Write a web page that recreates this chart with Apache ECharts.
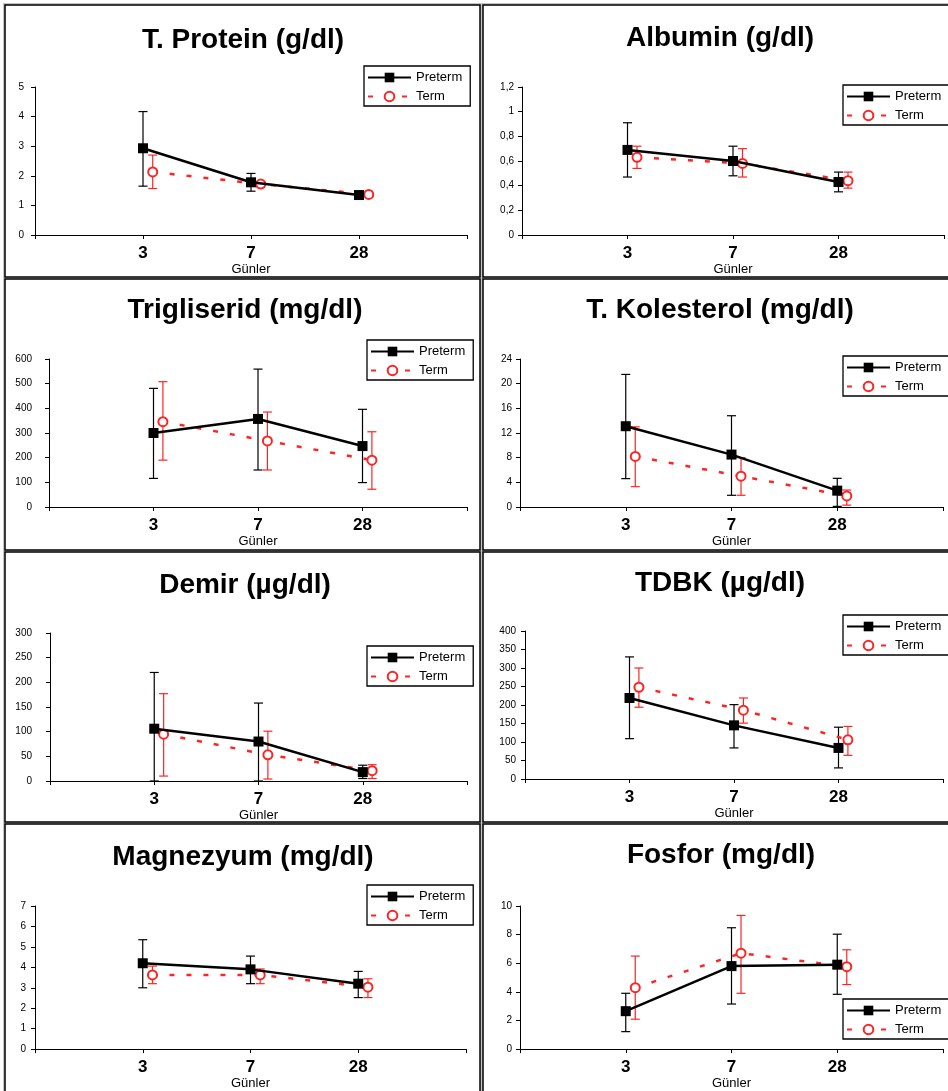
<!DOCTYPE html>
<html><head><meta charset="utf-8">
<script src="https://cdn.jsdelivr.net/npm/echarts@6/dist/echarts.min.js"></script>
<style>html,body{margin:0;padding:0;background:#fff;overflow:hidden}#c{width:948px;height:1091px}</style>
</head><body><div id="c"></div><script>
// ---------- DATA ----------
const days = ['3', '7', '28'];
const seriesNames = ['Preterm', 'Term'];

const proteinPre = [2.93, 1.78, 1.35];
const proteinPreHi = [4.17, 2.08, 1.42];
const proteinPreLo = [1.65, 1.48, 1.28];
const proteinTerm = [2.13, 1.72, 1.37];
const proteinTermHi = [2.7, 1.8, 1.42];
const proteinTermLo = [1.57, 1.62, 1.32];

const albuminPre = [0.69, 0.60, 0.43];
const albuminPreHi = [0.91, 0.72, 0.51];
const albuminPreLo = [0.47, 0.48, 0.35];
const albuminTerm = [0.63, 0.58, 0.44];
const albuminTermHi = [0.72, 0.70, 0.51];
const albuminTermLo = [0.54, 0.47, 0.38];

const trigPre = [300, 357, 247];
const trigPreHi = [481, 559, 396];
const trigPreLo = [116, 150, 99];
const trigTerm = [346, 268, 190];
const trigTermHi = [508, 385, 305];
const trigTermLo = [190, 150, 72];

const kolPre = [13.1, 8.5, 2.65];
const kolPreHi = [21.5, 14.8, 4.65];
const kolPreLo = [4.6, 1.9, 0.1];
const kolTerm = [8.2, 5.0, 1.8];
const kolTermHi = [13.0, 8.0, 2.75];
const kolTermLo = [3.3, 1.9, 0.3];

const demirPre = [106, 80, 18];
const demirPreHi = [220, 158, 32];
const demirPreLo = [0, 0, 5];
const demirTerm = [95, 53, 21];
const demirTermHi = [177, 101, 33];
const demirTermLo = [10, 4, 5];

const tdbkPre = [219, 145, 84];
const tdbkPreHi = [330, 201, 140];
const tdbkPreLo = [109, 84, 30];
const tdbkTerm = [248, 186, 106];
const tdbkTermHi = [300, 219, 142];
const tdbkTermLo = [194, 151, 64];

const mgPre = [4.2, 3.9, 3.2];
const mgPreHi = [5.35, 4.55, 3.8];
const mgPreLo = [3.0, 3.2, 2.52];
const mgTerm = [3.63, 3.63, 3.03];
const mgTermHi = [4.06, 3.92, 3.44];
const mgTermLo = [3.2, 3.2, 2.52];

const fosPre = [2.65, 5.8, 5.9];
const fosPreHi = [3.9, 8.48, 8.03];
const fosPreLo = [1.22, 3.15, 3.83];
const fosTerm = [4.29, 6.7, 5.76];
const fosTermHi = [6.5, 9.34, 6.94];
const fosTermLo = [2.09, 3.9, 4.51];

// ---------- PANELS (layout) ----------
const comma = v => String(+v.toFixed(1)).replace('.', ',');
const panels = [
  {title: 'T. Protein (g/dl)', d: [proteinPre, proteinPreHi, proteinPreLo, proteinTerm, proteinTermHi, proteinTermLo],
   y: [0, 5, 1], box: [5, 5, 475, 272], t: [243, 40], g: [35, 87, 467, 235], lg: [364, 66], lm: 11},
  {title: 'Albumin (g/dl)', d: [albuminPre, albuminPreHi, albuminPreLo, albuminTerm, albuminTermHi, albuminTermLo],
   y: [0, 1.2, 0.2], fmt: comma, box: [483, 5, 480, 272], t: [720, 38], g: [522, 87, 944, 235], lg: [843, 85], lm: 8},
  {title: 'Trigliserid (mg/dl)', d: [trigPre, trigPreHi, trigPreLo, trigTerm, trigTermHi, trigTermLo],
   y: [0, 600, 100], box: [5, 279, 475, 271], t: [245, 310], g: [49, 359, 467, 507], lg: [367, 340], lm: 17},
  {title: 'T. Kolesterol (mg/dl)', d: [kolPre, kolPreHi, kolPreLo, kolTerm, kolTermHi, kolTermLo],
   y: [0, 24, 4], box: [483, 279, 480, 271], t: [720, 310], g: [520, 359, 943, 507], lg: [843, 356], lm: 8},
  {title: 'Demir (µg/dl)', d: [demirPre, demirPreHi, demirPreLo, demirTerm, demirTermHi, demirTermLo],
   y: [0, 300, 50], box: [5, 552, 475, 270], t: [245, 585], g: [50, 633, 467, 781], lg: [367, 646], lm: 18},
  {title: 'TDBK (µg/dl)', d: [tdbkPre, tdbkPreHi, tdbkPreLo, tdbkTerm, tdbkTermHi, tdbkTermLo],
   y: [0, 400, 50], box: [483, 552, 480, 270], t: [720, 583], g: [525, 631, 943, 779], lg: [843, 615], lm: 9},
  {title: 'Magnezyum (mg/dl)', d: [mgPre, mgPreHi, mgPreLo, mgTerm, mgTermHi, mgTermLo],
   y: [0, 7, 1], box: [5, 824, 475, 280], t: [243, 857], g: [35, 906, 466, 1053], lg: [367, 885], lm: 9},
  {title: 'Fosfor (mg/dl)', d: [fosPre, fosPreHi, fosPreLo, fosTerm, fosTermHi, fosTermLo],
   y: [0, 10, 2], box: [483, 824, 480, 280], t: [721, 855], g: [520, 906, 943, 1053], lg: [843, 999], lm: 8}
];

const FONT = '"Liberation Sans", Arial, Helvetica, sans-serif';
const RED = '#ff2424';
const TERM_SHIFT = 0.09;

function errRender(color) {
  return function (params, api) {
    const x = api.value(0);
    const lo = api.coord([x, api.value(1)]);
    const hi = api.coord([x, api.value(2)]);
    const w = 4.5;
    const style = {stroke: color, lineWidth: 1.2, fill: null};
    return {type: 'group', children: [
      {type: 'line', shape: {x1: lo[0], y1: lo[1], x2: hi[0], y2: hi[1]}, style: style},
      {type: 'line', shape: {x1: lo[0] - w, y1: lo[1], x2: lo[0] + w, y2: lo[1]}, style: style},
      {type: 'line', shape: {x1: hi[0] - w, y1: hi[1], x2: hi[0] + w, y2: hi[1]}, style: style}
    ]};
  };
}

const option = {
  backgroundColor: '#fff', animation: false,
  title: [], legend: [], grid: [], xAxis: [], yAxis: [], series: [],
  graphic: [{type: 'rect', z: -30, silent: true, shape: {x: 3, y: 3, width: 990, height: 1120}, style: {fill: '#c4c4c4'}}]
};

panels.forEach((p, k) => {
  const [pre, preHi, preLo, term, termHi, termLo] = p.d;
  option.graphic.push({type: 'rect', z: -20, silent: true,
    shape: {x: p.box[0], y: p.box[1], width: p.box[2], height: p.box[3]},
    style: {fill: '#fff', stroke: '#000', lineWidth: 1.5}});
  option.title.push({text: p.title, left: p.t[0], top: p.t[1] - 16, textAlign: 'center', padding: 0,
    textStyle: {fontFamily: FONT, fontSize: 28, fontWeight: 'bold', color: '#000', lineHeight: 32}});
  option.grid.push({left: p.g[0], top: p.g[1], width: p.g[2] - p.g[0], height: p.g[3] - p.g[1]});
  option.xAxis.push({type: 'value', gridIndex: k, min: 0, max: 4, interval: 1,
    splitLine: {show: false},
    axisLine: {show: true, lineStyle: {color: '#000', width: 1}},
    axisTick: {show: true, length: 4, lineStyle: {color: '#000'}},
    axisLabel: {formatter: v => days[v - 1] || '', fontSize: 17, fontWeight: 'bold', color: '#000', margin: 10, fontFamily: FONT},
    name: 'Günler', nameLocation: 'middle', nameGap: 25,
    nameTextStyle: {fontSize: 13, color: '#000', fontFamily: FONT}});
  option.yAxis.push({type: 'value', gridIndex: k, min: p.y[0], max: p.y[1], interval: p.y[2],
    splitLine: {show: false},
    axisLine: {show: true, lineStyle: {color: '#000', width: 1}},
    axisTick: {show: true, length: 4, lineStyle: {color: '#000'}},
    axisLabel: {fontSize: 10, color: '#000', margin: p.lm, fontFamily: FONT, formatter: p.fmt}});
  option.legend.push({left: p.lg[0], top: p.lg[1], orient: 'vertical', selectedMode: false,
    data: seriesNames, itemWidth: 43, itemHeight: 12, itemGap: 6,
    padding: [5, 8, 3, 3], borderColor: '#000', borderWidth: 1.3, backgroundColor: '#fff',
    textStyle: {fontSize: 13, color: '#000', fontFamily: FONT}});
  option.series.push(
    {type: 'custom', name: 'Preterm SD', xAxisIndex: k, yAxisIndex: k, z: 1,
     renderItem: errRender('#000'), encode: {x: 0, y: [1, 2]},
     data: days.map((d, i) => [i + 1, preLo[i], preHi[i]])},
    {type: 'custom', name: 'Term SD', xAxisIndex: k, yAxisIndex: k, z: 1,
     renderItem: errRender(RED), encode: {x: 0, y: [1, 2]},
     data: days.map((d, i) => [i + 1 + TERM_SHIFT, termLo[i], termHi[i]])},
    {type: 'line', name: 'Term', xAxisIndex: k, yAxisIndex: k, z: 3,
     symbol: 'emptyCircle', symbolSize: 9,
     itemStyle: {color: RED, borderWidth: 1.5},
     lineStyle: {color: RED, width: 2.5, type: [5, 12]},
     data: days.map((d, i) => [i + 1 + TERM_SHIFT, term[i]])},
    {type: 'line', name: 'Preterm', xAxisIndex: k, yAxisIndex: k, z: 4,
     symbol: 'rect', symbolSize: 10,
     itemStyle: {color: '#000'},
     lineStyle: {color: '#000', width: 2.5},
     data: days.map((d, i) => [i + 1, pre[i]])}
  );
});

const chart = echarts.init(document.getElementById('c'), null, {renderer: 'canvas'});
chart.setOption(option);
</script></body></html>
